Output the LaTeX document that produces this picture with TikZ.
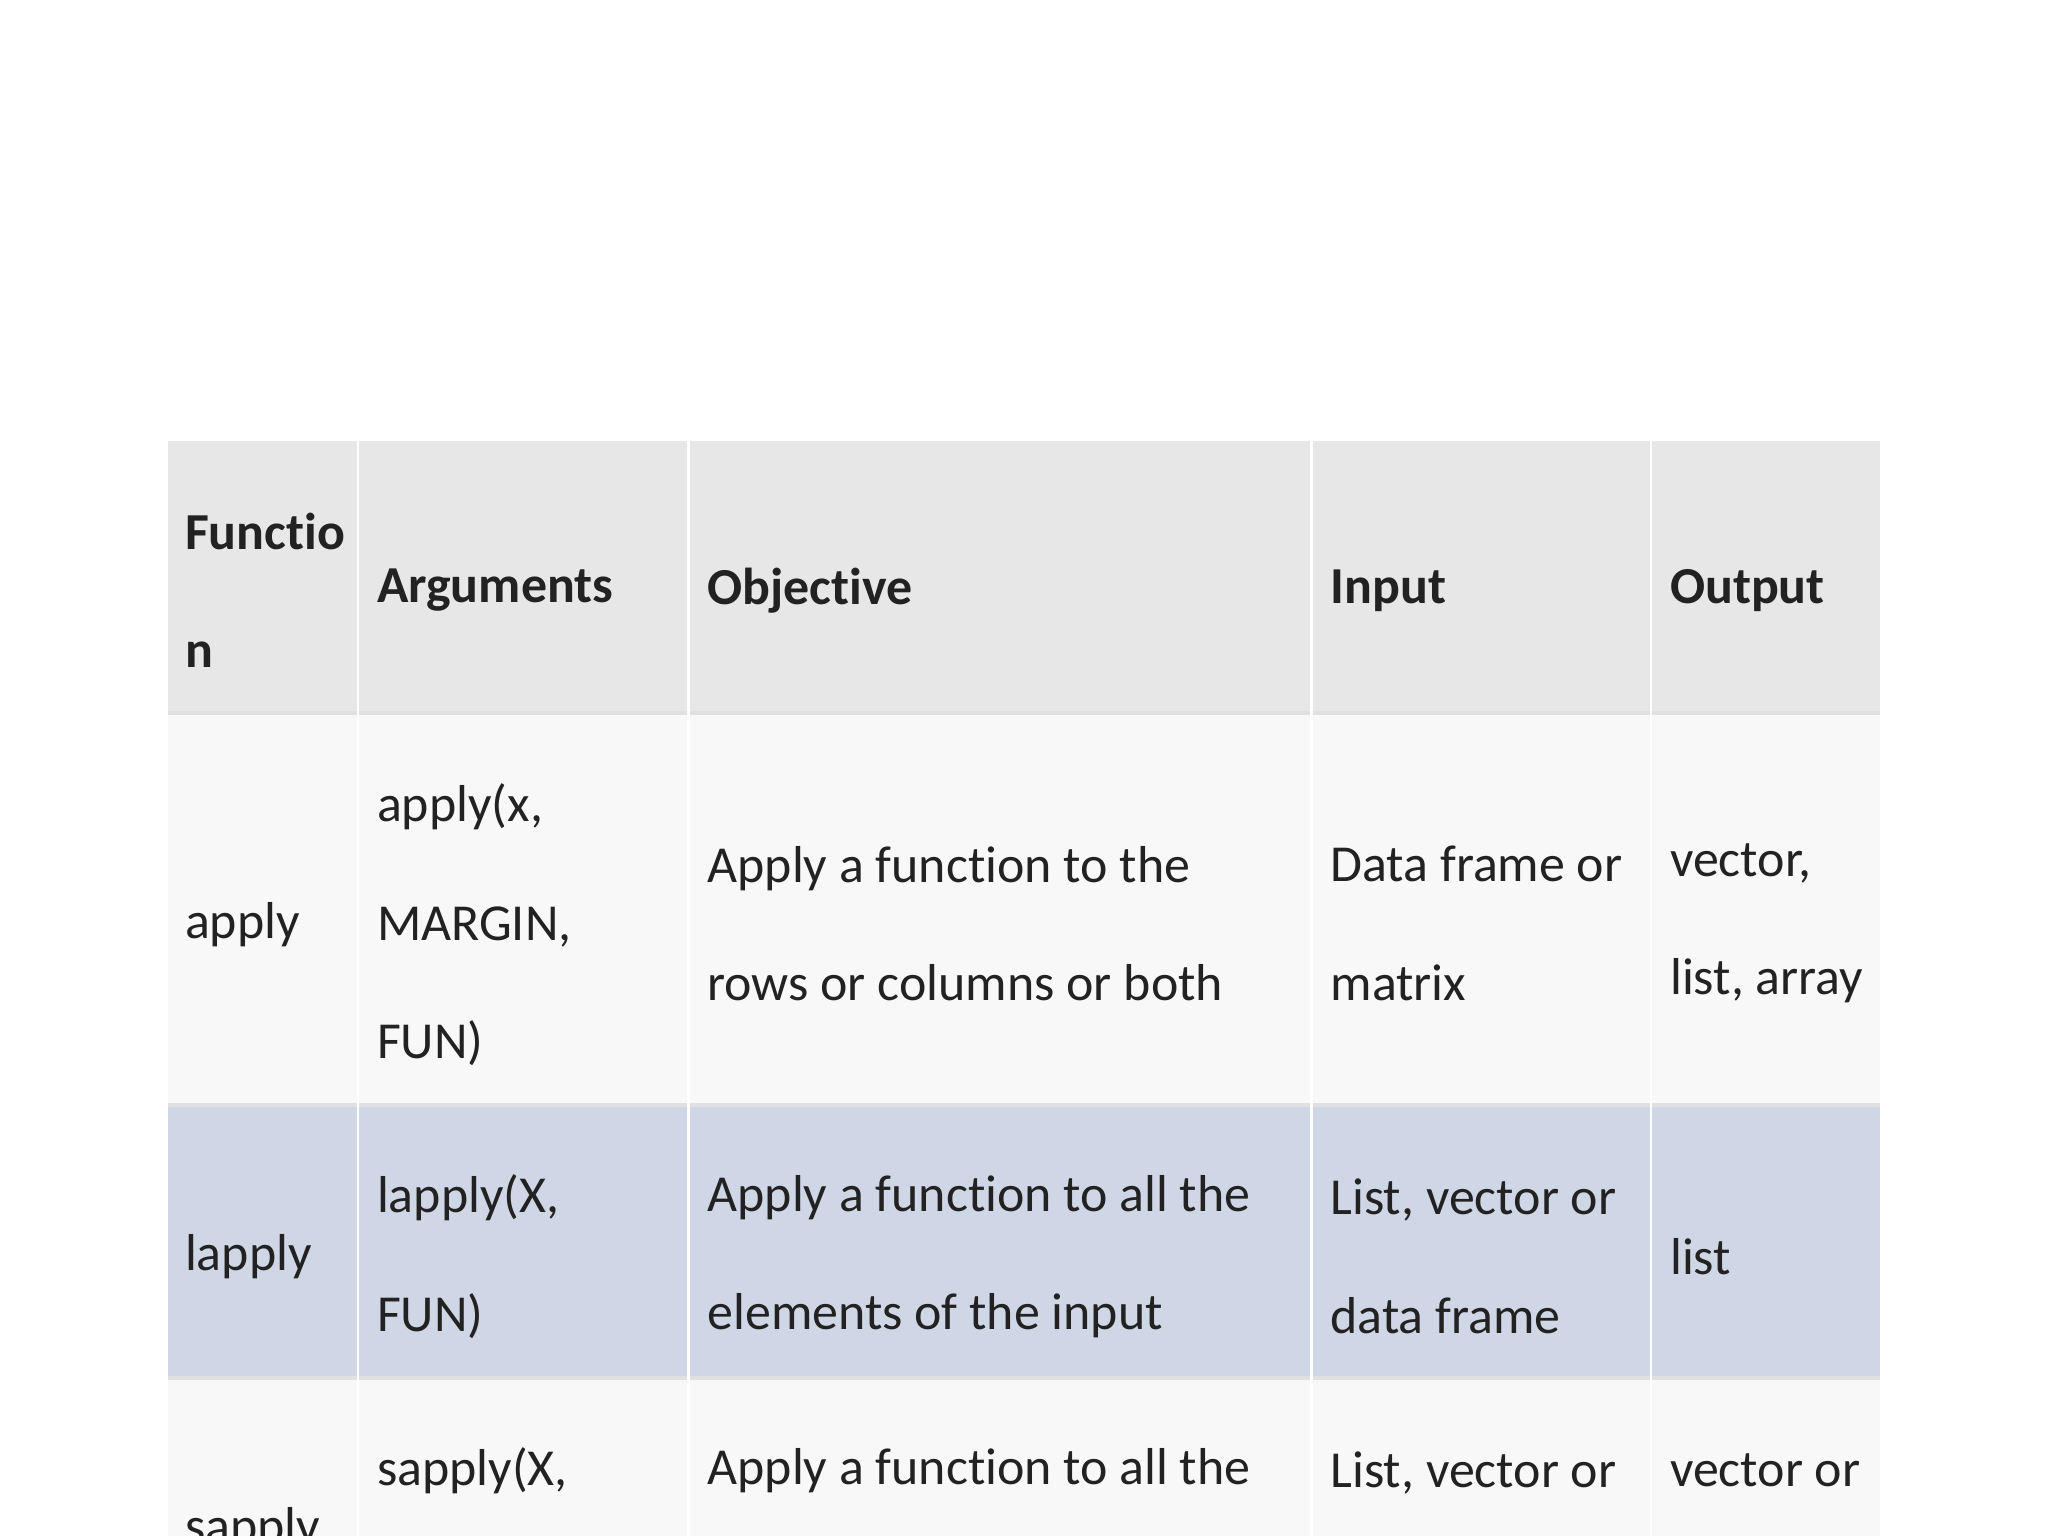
\documentclass[tikz,border=0pt]{standalone}
\usepackage{fontspec}
\setmainfont[RawFeature={-liga}]{Carlito}
\definecolor{headgray}{HTML}{E7E7E7}
\definecolor{rowlight}{HTML}{F8F8F8}
\definecolor{rowblue}{HTML}{CFD7E6}
\definecolor{txt}{HTML}{222222}
\tikzset{
  cell/.style={anchor=west, align=left, inner sep=0pt, text=txt,
    font=\fontsize{11.3}{25.8}\selectfont},
  headcell/.style={cell, font=\fontsize{11.3}{25.8}\selectfont\bfseries},
  sep/.style={white, line width=0.6pt}
}
\begin{document}
\begin{tikzpicture}[x=0.01cm,y=-0.01cm]
        \useasboundingbox (0,0) rectangle (1568,1176);
        \clip (0,0) rectangle (1568,1176);
        % rows
        \fill[headgray] (129,338) rectangle (1439,546);
        \fill[rowlight] (129,546) rectangle (1439,846);
        \fill[rowblue] (129,846) rectangle (1439,1055);
        \fill[rowlight] (129,1055) rectangle (1439,1176);
        \draw[black!12, line width=0.8pt] (129,546) -- (1439,546);
        \draw[black!12, line width=0.8pt] (129,846) -- (1439,846);
        \draw[black!12, line width=0.8pt] (129,1055) -- (1439,1055);
        % column lines
        \foreach \cx in {274,527,1004,1264}
            \draw[sep] (\cx,338) -- (\cx,1176);
        % header
        \node[headcell] (hfun) at (141,452) {Functio\\n};
        \node[headcell] (harg) at (288,452) {Arguments};
        \node[headcell] (hobj) at (541,452) {Objective};
        \node[headcell] (hin) at (1018,452) {Input};
        \node[headcell] (hout) at (1278,452) {Output};
        % apply
        \node[cell] (afun) at (141,708) {apply};
        \node[cell] (aarg) at (288,708) {apply(x,\\MARGIN,\\FUN)};
        \node[cell] (aobj) at (541,707) {Apply a function to the\\rows or columns or both};
        \node[cell] (ain) at (1018,707) {Data frame or\\matrix};
        \node[cell] (aout) at (1278,707) {vector,\\list, array};
        % lapply
        \node[cell] (lfun) at (141,962) {lapply};
        \node[cell] (larg) at (288,962) {lapply(X,\\FUN)};
        \node[cell] (lobj) at (541,962) {Apply a function to all the\\elements of the input};
        \node[cell] (lin) at (1018,962) {List, vector or\\data frame};
        \node[cell] (lout) at (1278,962) {list};
        % sapply
        \node[cell] (sfun) at (141,1171) {sapply};
        \node[cell] (sarg) at (288,1171) {sapply(X,\\FUN)};
        \node[cell] (sobj) at (541,1171) {Apply a function to all the\\elements of the input};
        \node[cell] (sin) at (1018,1171) {List, vector or\\data frame};
        \node[cell] (sout) at (1278,1171) {vector or\\matrix};
\end{tikzpicture}
\end{document}
